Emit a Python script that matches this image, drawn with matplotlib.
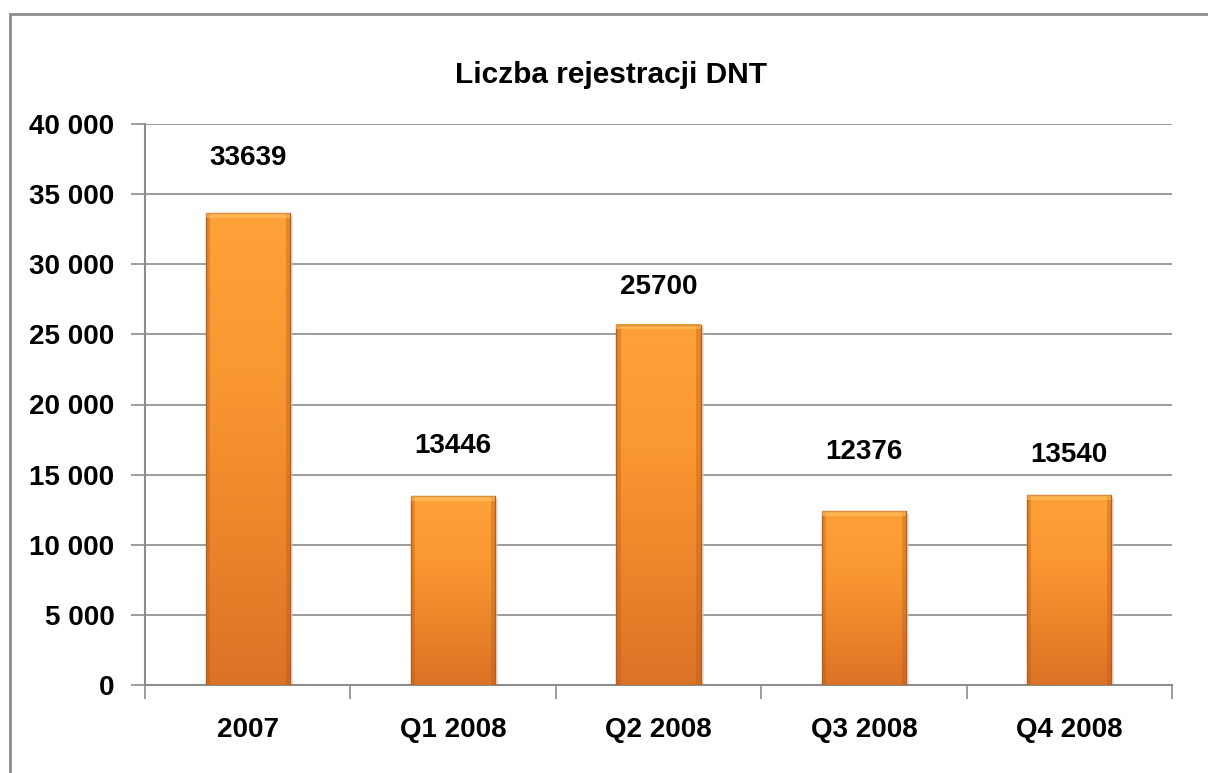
import numpy as np
import matplotlib.pyplot as plt
from matplotlib.colors import LinearSegmentedColormap
from matplotlib.patches import Rectangle

# Data
categories = ["2007", "Q1 2008", "Q2 2008", "Q3 2008", "Q4 2008"]
values = [33639, 13446, 25700, 12376, 13540]
yticks = [0, 5000, 10000, 15000, 20000, 25000, 30000, 35000, 40000]
# data labels were nudged by hand in the original, so offsets differ per bar
label_offsets = [3940, 3600, 2680, 4240, 2860]

plt.rcParams['font.family'] = ['Liberation Sans', 'DejaVu Sans']
plt.rcParams['font.weight'] = 'bold'
fs = 20

fig = plt.figure(figsize=(12.08, 7.73), dpi=100)
ax = fig.add_axes([145 / 1208, 1 - 685 / 773, (1172 - 145) / 1208, (685 - 124) / 773])

# outer chart border (runs off the right and bottom edge)
fig.patches.append(Rectangle((10 / 1208, -0.05), 1.2, 1 - 14 / 773 + 0.05,
                             transform=fig.transFigure, fill=False,
                             edgecolor='#8c8c8c', lw=2))

x = np.arange(len(categories))
width = 0.41
cmap = LinearSegmentedColormap.from_list('orange', ['#dc7226', '#ec862b', '#fa9832', '#ffa139'])
grad = np.linspace(0, 1, 256).reshape(-1, 1)

for xi, v, off in zip(x, values, label_offsets):
    # shadow
    ax.add_patch(Rectangle((xi - width / 2 + 0.015, -200), width, v, color='#d0d0d0',
                           alpha=0.6, zorder=2, lw=0))
    ax.imshow(grad, extent=(xi - width / 2, xi + width / 2, 0, v), origin='lower',
              cmap=cmap, aspect='auto', zorder=3)
    # darker bevel on the sides
    for side in (xi - width / 2, xi + width / 2 - 0.02):
        ax.add_patch(Rectangle((side, 0), 0.02, v, color='#b35a18', alpha=0.35,
                               zorder=4, lw=0))
    ax.add_patch(Rectangle((xi - width / 2, 0), width, v, fill=False,
                           edgecolor='#b85f1c', lw=1.0, zorder=4))
    # bevel highlight on top
    ax.add_patch(Rectangle((xi - width / 2, v - 350), width, 350, color='#ffd070',
                           alpha=0.45, zorder=4, lw=0))
    ax.text(xi, v + off, str(v), ha='center', va='center', fontsize=fs,
            fontweight='bold', zorder=5)

ax.set_xlim(-0.5, len(categories) - 0.5)
ax.set_ylim(0, 40000)
ax.set_yticks(yticks)
ax.set_yticklabels([f"{t:,}".replace(",", " ") for t in yticks], fontsize=fs, fontweight='bold')
ax.yaxis.grid(True, color='#8c8c8c', lw=1.2, zorder=0)
ax.set_axisbelow(True)

ax.set_xticks(x)
ax.set_xticklabels(categories, fontsize=fs, fontweight='bold')
ax.set_xticks(np.arange(-0.5, len(categories)), minor=True)
ax.tick_params(axis='x', which='major', length=0, pad=23)
ax.tick_params(axis='x', which='minor', length=10, width=1.2, color='#8c8c8c')
ax.tick_params(axis='y', length=10, width=1.2, color='#8c8c8c', pad=12)

for s in ['top', 'right']:
    ax.spines[s].set_visible(False)
for s in ['left', 'bottom']:
    ax.spines[s].set_color('#8c8c8c')
    ax.spines[s].set_linewidth(1.5)

fig.text(611 / 1208, 1 - 75 / 773, "Liczba rejestracji DNT",
         ha='center', va='center', fontsize=21.5, fontweight='bold')

fig.savefig("out.png", dpi=100)
